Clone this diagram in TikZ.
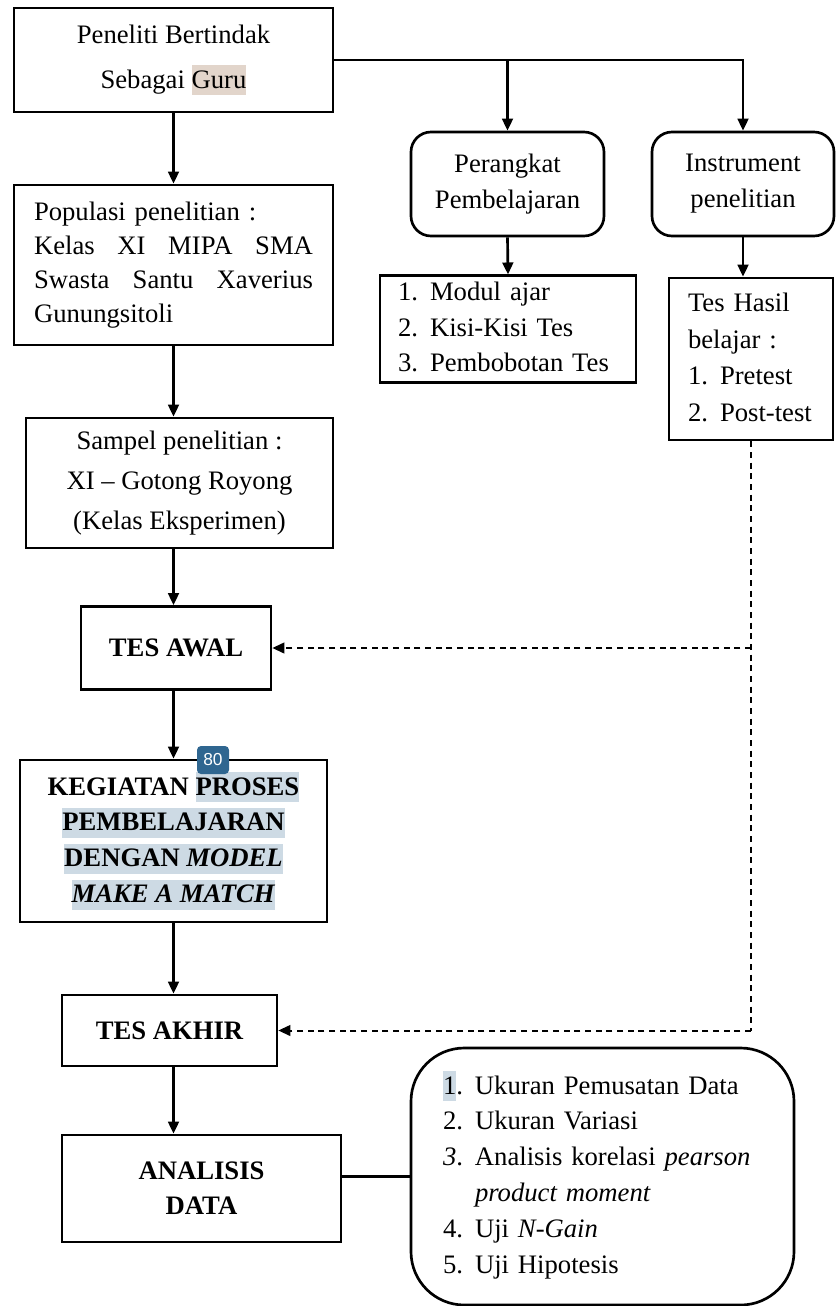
\documentclass[tikz,border=0pt]{standalone}
\usepackage{fontspec}
\setmainfont{Liberation Serif}
\newfontfamily\badgefont{Liberation Sans}
\usetikzlibrary{arrows.meta}

\definecolor{sorotkrem}{RGB}{226,213,203}
\definecolor{sorotbiru}{RGB}{205,218,228}
\definecolor{lencanabiru}{RGB}{47,102,144}

\newcommand{\sorot}[2]{{\setlength{\fboxsep}{0pt}\colorbox{#1}{\rule[-5.5pt]{0pt}{22.5pt}#2}}}
\newcommand{\rata}[1]{\leavevmode\hbox to 209.25pt{#1}}

\tikzset{every picture/.style={line width=0.75pt}}
\tikzset{
kotak/.style={draw, line width=2pt, inner sep=0pt, align=center, font=\fontsize{20}{27}\selectfont},
kotakbulat/.style={kotak, rounded corners=15pt},
panah/.style={line width=2pt, -{Triangle[length=9pt,width=8pt]}},
putus/.style={line width=1.5pt, dash pattern=on 4.5pt off 3.5pt},
putusarah/.style={putus, -{Triangle[length=9pt,width=8pt]}},
lencana/.style={fill=lencanabiru, rounded corners=3pt, text=white, inner sep=0pt, minimum width=24pt, minimum height=21pt, font=\badgefont\fontsize{13}{13}\selectfont}
}

\begin{document}
\begin{tikzpicture}[x=0.75pt,y=0.75pt,yscale=-1,xscale=1]
\useasboundingbox (0,0) rectangle (835,1306);

%Shape: Rectangle (kolom kiri)
\node [kotak, minimum width=239.25pt, minimum height=78pt, font=\fontsize{20}{33.75}\selectfont] (guru) at (173.5,60) {Peneliti Bertindak\\Sebagai \sorot{sorotkrem}{Guru}};
\node [kotak, minimum height=120pt, inner xsep=15pt, text width=209.25pt, align=left, font=\fontsize{20}{25.5}\selectfont] (populasi) at (173.5,265) {Populasi penelitian :\\\rata{Kelas\hfill XI\hfill MIPA\hfill SMA}\\\rata{Swasta\hfill Santu\hfill Xaverius}\\Gunungsitoli};
\node [kotak, minimum width=230.25pt, minimum height=97.5pt, font=\fontsize{20}{30}\selectfont] (sampel) at (179.5,483) {Sampel penelitian :\\XI -- Gotong Royong\\(Kelas Eksperimen)};
\node [kotak, minimum width=142.5pt, minimum height=62.25pt, font=\fontsize{20}{27}\selectfont\bfseries] (tesawal) at (176,648) {TES AWAL};
\node [kotak, minimum width=230.25pt, minimum height=121.5pt, font=\fontsize{20}{26.8}\selectfont\bfseries] (kegiatan) at (173.5,841) {KEGIATAN \sorot{sorotbiru}{PROSES}\\\sorot{sorotbiru}{PEMBELAJARAN}\\\sorot{sorotbiru}{DENGAN \textit{MODEL}}\\\sorot{sorotbiru}{\textit{MAKE A MATCH}}};
\node [kotak, minimum width=161.25pt, minimum height=53.25pt, font=\fontsize{20}{27}\selectfont\bfseries] (tesakhir) at (169.5,1030.5) {TES AKHIR};
\node [kotak, minimum width=209.25pt, minimum height=80.25pt, font=\fontsize{20}{26.25}\selectfont\bfseries] (analisis) at (201.5,1188.5) {ANALISIS\\DATA};

%Shape: Rounded Rect (kolom kanan)
\node [kotakbulat, minimum width=144.75pt, minimum height=78pt] (perangkat) at (507.5,184) {Perangkat\\Pembelajaran};
\node [kotakbulat, minimum width=136.5pt, minimum height=78pt] (instrumen) at (743,184) {Instrument\\penelitian};

%Shape: Rectangle (daftar)
\node [kotak, minimum height=76.5pt, inner xsep=13.5pt, text width=165pt, align=left, font=\fontsize{20}{26.6}\selectfont] (modul) at (508,329) {\begin{tabular}{@{}l@{\hspace{9pt}}l@{}}
1. & Modul ajar\\
2. & Kisi-Kisi Tes\\
3. & Pembobotan Tes
\end{tabular}};
\node [kotak, minimum height=121.5pt, inner xsep=14.25pt, text width=94.5pt, align=left, font=\fontsize{20}{27.5}\selectfont] (teshasil) at (751,359) {\begin{tabular}{@{}l@{\hspace{9pt}}l@{}}
\multicolumn{2}{@{}l@{}}{Tes Hasil}\\
\multicolumn{2}{@{}l@{}}{belajar :}\\
1. & Pretest\\
2. & Post-test
\end{tabular}};
\node [kotak, rounded corners=40pt, minimum height=192.75pt, inner xsep=24pt, text width=239.25pt, align=left, font=\fontsize{20}{26.9}\selectfont] (statistik) at (602.5,1176.5) {\begin{tabular}{@{}l@{\hspace{9pt}}l@{}}
\sorot{sorotbiru}{1}. & Ukuran Pemusatan Data\\
2. & Ukuran Variasi\\
\textit{3}. & Analisis korelasi \textit{pearson}\\
 & \textit{product moment}\\
4. & Uji \textit{N-Gain}\\
5. & Uji Hipotesis
\end{tabular}};

% Text Node (lencana)
\node [lencana] (nomor) at (213,760) {80};

%Straight Lines (alur utama)
\draw [panah] (guru.south) -- (populasi.north);
\draw [panah] (populasi.south) -- (populasi.south |- sampel.north);
\draw [panah] (sampel.south -| guru.south) -- (tesawal.north -| guru.south);
\draw [panah] (tesawal.south -| guru.south) -- (kegiatan.north -| guru.south);
\draw [panah] (kegiatan.south -| guru.south) -- (tesakhir.north -| guru.south);
\draw [panah] (tesakhir.south -| guru.south) -- (analisis.north -| guru.south);

%Straight Lines (cabang atas)
\draw [panah] (guru.east) -| (instrumen.north);
\draw [panah] (guru.east -| perangkat.north) -- (perangkat.north);
\draw [panah] (perangkat.south) -- (modul.north);
\draw [panah] (instrumen.south) -- (instrumen.south |- teshasil.north);

%Straight Lines (garis putus)
\draw [putus] (teshasil.south) -- (teshasil.south |- tesakhir.east);
\draw [putusarah] (teshasil.south |- tesawal.east) -- (tesawal.east);
\draw [putusarah] (teshasil.south |- tesakhir.east) -- (tesakhir.east);

%Straight Lines (analisis)
\draw [line width=2pt] (analisis.east |- statistik.west) -- (statistik.west);

\end{tikzpicture}
\end{document}
